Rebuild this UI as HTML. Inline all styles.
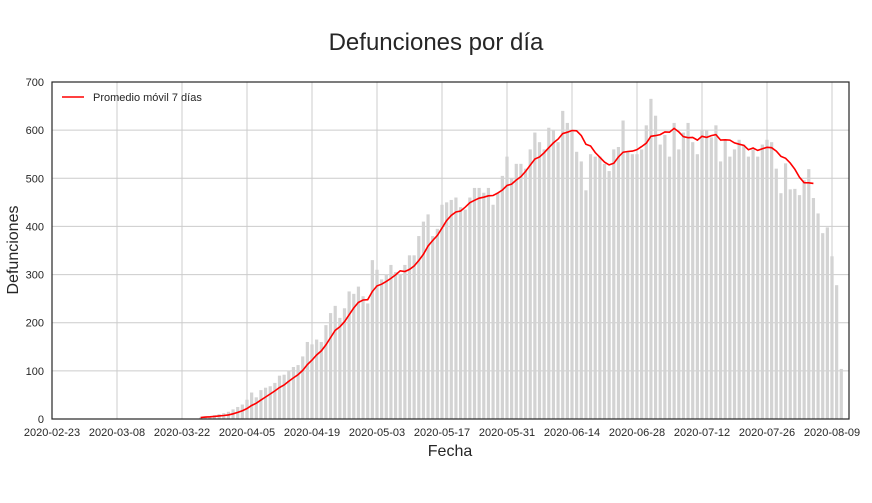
<!DOCTYPE html>
<html><head><meta charset="utf-8"><style>
body{margin:0;background:#fff;}
svg text{font-family:"Liberation Sans",Arial,sans-serif;fill:#262626;}
</style></head><body>
<svg id="chart" width="872" height="498" xmlns="http://www.w3.org/2000/svg">
<rect width="872" height="498" fill="#fff"/>
<text x="436" y="50" font-size="24" text-anchor="middle">Defunciones por día</text>
<g id="grid"></g>
<g id="bars"></g>
<path id="ma" fill="none" stroke="#ff0000" stroke-width="1.6"/>
<rect x="52" y="82" width="797" height="337" fill="none" stroke="#262626" stroke-width="1.2"/>
<g id="ticks"></g>
<text x="450" y="456" font-size="16" text-anchor="middle">Fecha</text>
<text x="0" y="0" font-size="16" text-anchor="middle" transform="translate(18,250) rotate(-90)">Defunciones</text>
<g>
<line x1="62" y1="97" x2="84" y2="97" stroke="#ff0000" stroke-width="1.6"/>
<text x="93" y="101" font-size="11">Promedio móvil 7 días</text>
</g>
</svg>
<script>
const xTickLabels=["2020-02-23","2020-03-08","2020-03-22","2020-04-05","2020-04-19","2020-05-03","2020-05-17","2020-05-31","2020-06-14","2020-06-28","2020-07-12","2020-07-26","2020-08-09"];
const yTicks=[0,100,200,300,400,500,600,700];
const firstBarDay=32; // days after 2020-02-23 (2020-03-26)
const deaths=[3,5,6,8,10,12,15,20,25,30,
40,55,45,60,65,68,75,90,92,100,
108,112,130,160,155,165,160,195,220,235,
210,230,265,260,275,255,240,330,310,290,
300,320,305,300,320,340,340,380,410,425,
380,395,445,450,455,460,440,435,460,480,
480,470,480,445,470,505,545,500,530,530,
520,560,595,575,560,605,600,575,640,615,
600,555,535,475,550,545,545,530,515,560,
565,620,555,550,550,560,610,665,630,570,
590,545,615,560,595,615,575,550,600,600,
585,610,535,580,545,560,580,570,545,560,
545,570,580,575,520,469,531,477,478,465,496,519,459,427,386,398,338,278,104];
const maDropLast=6;

const svgNS="http://www.w3.org/2000/svg";
const X0=52,X1=849,Y0=419,Y1=82,PX_PER_DAY=65/14;
const xs=d=>X0+d*PX_PER_DAY;
const ys=v=>Y0-(v/700)*(Y0-Y1);
function mk(tag,attrs,parent){const e=document.createElementNS(svgNS,tag);for(const k in attrs)e.setAttribute(k,attrs[k]);parent.appendChild(e);return e;}
const grid=document.getElementById('grid'),ticks=document.getElementById('ticks'),bars=document.getElementById('bars');
yTicks.forEach(v=>{
  const l=mk('line',{x1:X0,x2:X1,y1:ys(v),y2:ys(v),stroke:'#cccccc','stroke-width':1},grid);
  
  
  const t=mk('text',{x:X0-8,y:ys(v)+4,'font-size':11,'text-anchor':'end'},ticks);
  t.textContent=v;
  
  
});
xTickLabels.forEach((lab,i)=>{
  const x=xs(i*14);
  const l=mk('line',{x1:x,x2:x,y1:Y1,y2:Y0,stroke:'#cccccc','stroke-width':1},grid);
  
  
  const t=mk('text',{x:x,y:Y0+17,'font-size':11,'text-anchor':'middle'},ticks);
  t.textContent=lab;
  
  
});
deaths.forEach((v,i)=>{
  const cx=xs(firstBarDay+i);
  const r=mk('rect',{x:cx-1.6,y:ys(v),width:3.2,height:Y0-ys(v),fill:'#d3d3d3'},bars);
  
  
});
let d='';
for(let i=0;i<deaths.length-maDropLast;i++){
  const s=deaths.slice(Math.max(0,i-6),i+1);
  const m=s.reduce((a,b)=>a+b,0)/s.length;
  d+=(i?'L':'M')+xs(firstBarDay+i).toFixed(1)+','+ys(m).toFixed(1);
}
document.getElementById('ma').setAttribute('d',d);
</script>
</body></html>
